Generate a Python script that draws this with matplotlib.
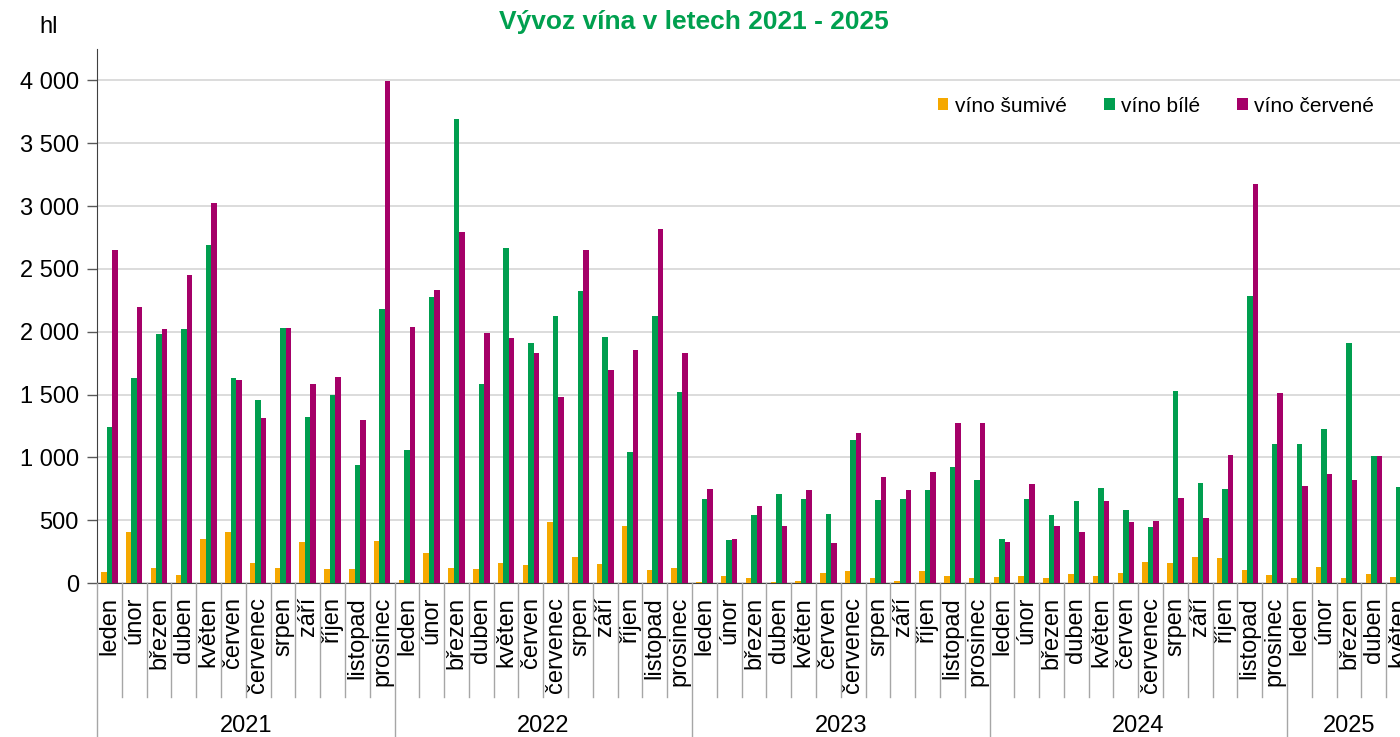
import numpy as np
import matplotlib
matplotlib.use("Agg")
import matplotlib.pyplot as plt
from matplotlib.patches import Patch
from matplotlib.lines import Line2D
from matplotlib.transforms import blended_transform_factory

plt.rcParams['font.family'] = ['Liberation Sans', 'DejaVu Sans']

MONTHS = ["leden", "únor", "březen", "duben", "květen", "červen",
          "červenec", "srpen", "září", "říjen", "listopad", "prosinec"]
YEARS = ["2021", "2022", "2023", "2024", "2025"]
MONTHS_PER_YEAR = [12, 12, 12, 12, 5]

# hl per month
sparkling = [85, 409, 122, 60, 347, 404, 162, 122, 324, 114, 114, 338,
             20, 239, 119, 111, 162, 142, 483, 210, 154, 455, 100, 119,
             8, 56, 37, 11, 13, 80, 96, 40, 16, 96, 56, 37,
             48, 53, 37, 74, 58, 80, 170, 157, 204, 199, 103, 64,
             42, 127, 37, 74, 48]
white = [1242, 1632, 1982, 2024, 2689, 1632, 1456, 2030, 1325, 1498, 938, 2178,
         1055, 2274, 3693, 1581, 2667, 1908, 2127, 2320, 1956, 1046, 2124, 1524,
         666, 340, 544, 709, 672, 552, 1142, 664, 666, 743, 921, 823,
         348, 671, 539, 655, 756, 584, 446, 1531, 796, 751, 2287, 1109,
         1104, 1228, 1913, 1013, 764]
red = [2647, 2198, 2019, 2448, 3025, 1615, 1313, 2033, 1581, 1638, 1294, 3992,
       2036, 2328, 2795, 1993, 1947, 1831, 1478, 2647, 1694, 1851, 2817, 1828,
       746, 348, 611, 454, 738, 316, 1195, 847, 738, 881, 1274, 1274,
       329, 785, 451, 409, 655, 485, 496, 677, 517, 1019, 3176, 1512,
       772, 868, 817, 1008, np.nan]

SERIES = ["víno šumivé", "víno bílé", "víno červené"]
COLORS = ["#F5A800", "#009E4F", "#A50068"]
W, H = 1400, 737


def fy(ypix):
    return 1 - ypix / H


def plot():
    fig = plt.figure(figsize=(14, 7.37), dpi=100)
    # the plot area runs past the right edge, as in the reference
    ax = fig.add_axes([97 / W, fy(583), (1411 - 97) / W, (583 - 49) / H])

    n = len(sparkling)
    x = np.arange(n)
    bw = 0.222
    for i, vals in enumerate([sparkling, white, red]):
        ax.bar(x + (i - 1) * bw, vals, width=bw, color=COLORS[i], zorder=3)

    ax.set_xlim(-0.5, n - 0.5)
    ax.set_ylim(0, 4250)
    ax.set_yticks(np.arange(0, 4001, 500))
    ax.set_yticklabels([f"{v:,}".replace(",", " ") for v in range(0, 4001, 500)])
    ax.tick_params(axis='y', labelsize=17, length=7, width=1, color='#595959', pad=6)
    ax.set_xticks([])
    ax.yaxis.grid(True, color='#d9d9d9', lw=1.3)
    ax.set_axisbelow(True)
    for s in ['top', 'right']:
        ax.spines[s].set_visible(False)
    ax.spines['left'].set_color('#404040')
    ax.spines['bottom'].set_color('#404040')

    # two-level category axis
    trans = blended_transform_factory(ax.transData, fig.transFigure)
    month_names = [MONTHS[m] for k in MONTHS_PER_YEAR for m in range(k)]
    for i, name in enumerate(month_names):
        ax.text(i, fy(597), name, rotation=90, ha='center', va='top',
                fontsize=17, transform=trans, clip_on=False)
    year_starts = np.cumsum([0] + MONTHS_PER_YEAR)
    for i in range(n + 1):
        if i in year_starts:
            y0 = 0
        else:
            y0 = fy(697)
        fig.add_artist(Line2D([i - 0.5, i - 0.5], [fy(583), y0], transform=trans,
                              color='#a6a6a6', lw=1))
    for k, yr in enumerate(YEARS):
        mid = (year_starts[k] + year_starts[k + 1] - 1) / 2
        ax.text(mid, fy(726), yr, ha='center', va='center', fontsize=17,
                transform=trans, clip_on=False)

    fig.text(694 / W, fy(22), "Vývoz vína v letech 2021 - 2025", ha='center', va='center',
             fontsize=19, fontweight='bold', color='#00A04F')
    fig.text(49 / W, fy(27), "hl", ha='center', va='center', fontsize=17)

    handles = [Patch(facecolor=c, edgecolor='none') for c in COLORS]
    fig.legend(handles, SERIES, loc='center', bbox_to_anchor=(1156 / W, fy(106)),
               ncol=3, frameon=False, fontsize=15, handlelength=0.5, handleheight=0.5,
               handletextpad=0.3, columnspacing=1.8)

    fig.savefig('out.png', dpi=100)


def main():
    plot()


if __name__ == '__main__':
    main()
